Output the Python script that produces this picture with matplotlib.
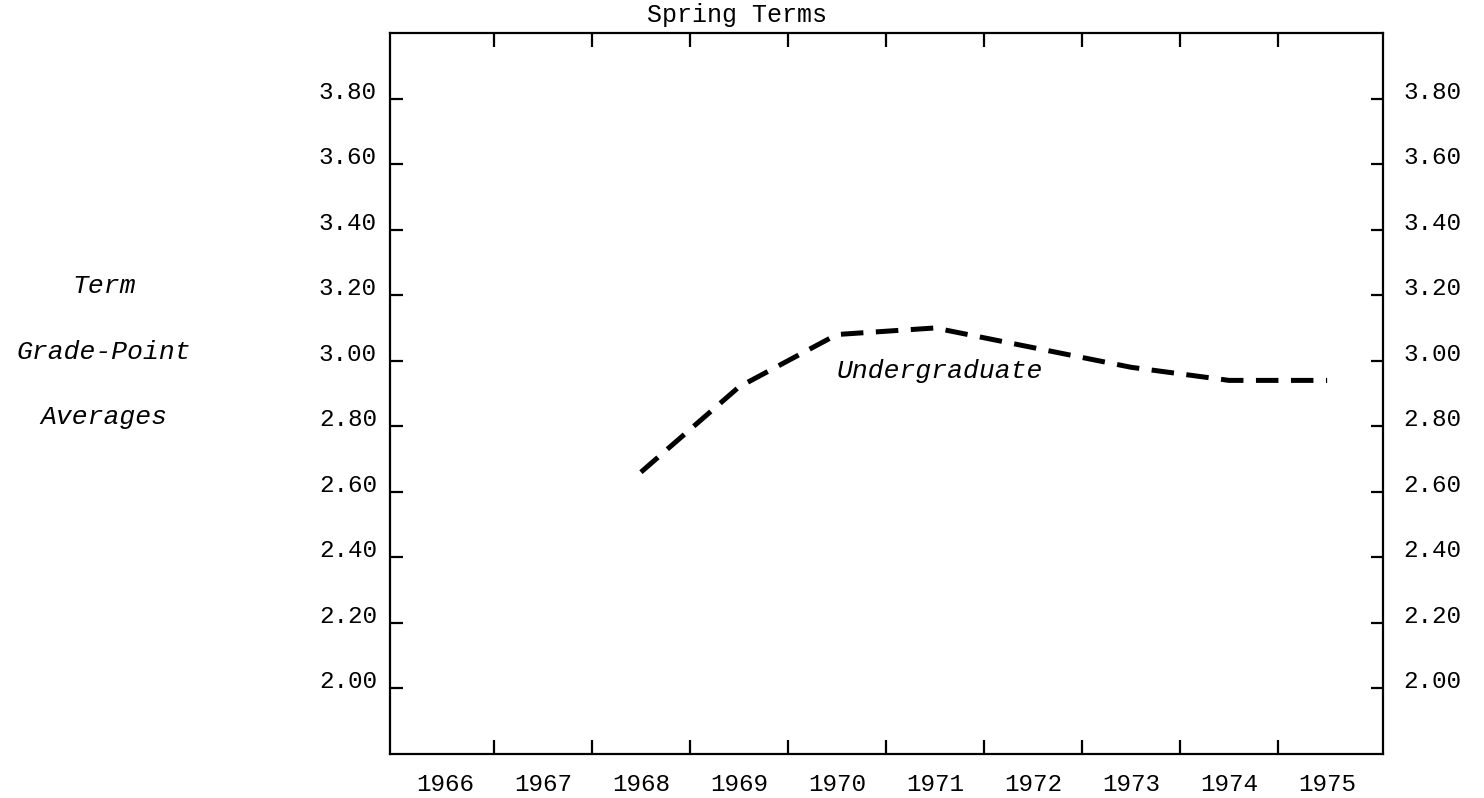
import matplotlib
matplotlib.use('Agg')
import matplotlib.pyplot as plt
from matplotlib.transforms import ScaledTranslation, blended_transform_factory

# Jahre und Notendurchschnitte (Spring Terms)
years = [1966, 1967, 1968, 1969, 1970, 1971, 1972, 1973, 1974, 1975]
ug_years = [1968, 1969, 1970, 1971, 1972, 1973, 1974, 1975]
ug_gpa = [2.66, 2.92, 3.08, 3.10, 3.04, 2.98, 2.94, 2.94]
gpa_ticks = [2.00, 2.20, 2.40, 2.60, 2.80, 3.00, 3.20, 3.40, 3.60, 3.80]
side_lines = ['Term', 'Grade-Point', 'Averages']
side_rows = [3.20, 3.00, 2.80]

plt.rcParams['font.family'] = ['Liberation Mono', 'DejaVu Sans Mono']

fig = plt.figure(figsize=(14.84, 7.98), dpi=100)
ax = fig.add_axes([390 / 1484, 1 - 754 / 798, (1383 - 390) / 1484, (754 - 33) / 798])

ax.plot(ug_years, ug_gpa, color='black', lw=3.6,
        linestyle=(0, (4.5, 2.5)), dash_capstyle='butt')

ax.set_xlim(1965.44, 1975.57)
ax.set_ylim(1.80, 4.00)

for s in ax.spines.values():
    s.set_linewidth(1.6)

# x: Jahreszahlen mittig, Striche an den Grenzen
ax.set_xticks(years)
ax.set_xticklabels([str(y) for y in years], fontsize=17.5)
ax.set_xticks([y + 0.5 for y in years[:-1]], minor=True)
ax.tick_params(axis='x', which='major', length=0, pad=14)
ax.tick_params(axis='x', which='minor', direction='in', length=10, width=1.6,
               top=True, bottom=True)

# y: beide Seiten beschriftet
ax.set_yticks(gpa_ticks)
ax.set_yticklabels(['%.2f' % v for v in gpa_ticks], fontsize=17.5)
ax.tick_params(axis='y', direction='in', length=9, width=1.6,
               left=True, right=True, labelleft=True, labelright=True, pad=9.5)

up = 9 / 100
for t in ax.yaxis.get_major_ticks():
    t.label1.set_transform(t.label1.get_transform() + ScaledTranslation(0, up, fig.dpi_scale_trans))
    t.label2.set_transform(t.label2.get_transform() + ScaledTranslation(7 / 100, up, fig.dpi_scale_trans))

ax.text(1971.05, 2.97, 'Undergraduate', style='italic', fontsize=19,
        ha='center', va='center')

fig.text(737 / 1484, 1 - 15 / 798, 'Spring Terms', fontsize=18,
         ha='center', va='center')

side_tr = blended_transform_factory(fig.transFigure, ax.transData) + \
    ScaledTranslation(0, up, fig.dpi_scale_trans)
for txt, row in zip(side_lines, side_rows):
    fig.text(104 / 1484, row, txt, transform=side_tr, style='italic',
             fontsize=19, ha='center', va='center')

fig.savefig('out.png', dpi=100)
